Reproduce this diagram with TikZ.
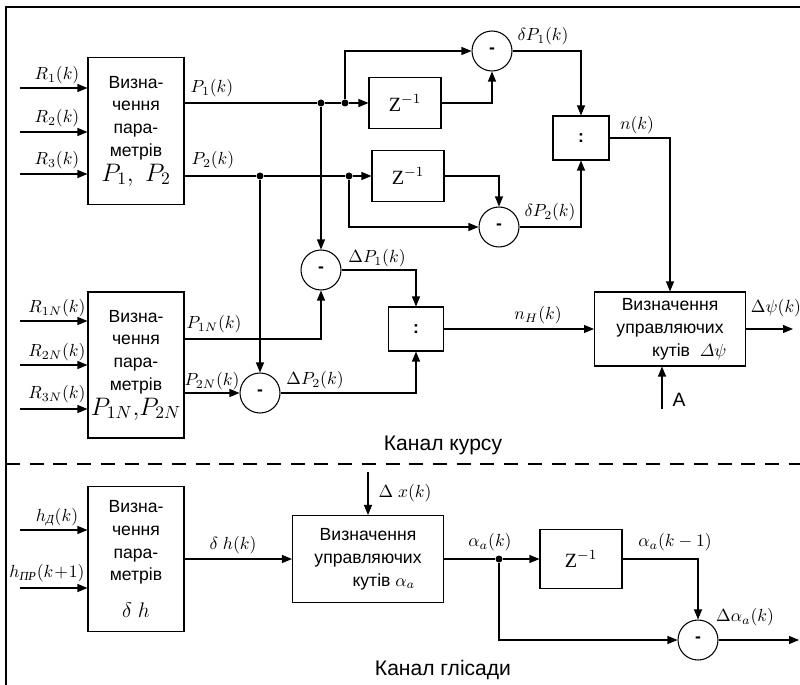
\documentclass[tikz,border=0pt]{standalone}
\usepackage{fontspec}
\setmainfont{Liberation Sans}
\newfontfamily\serifcyr{Liberation Serif}
\usetikzlibrary{arrows.meta,positioning,calc}
\newcommand{\cyrsub}[1]{\mbox{\fontsize{7}{8}\selectfont\serifcyr\itshape #1}}
\newcommand{\zinv}{{\serifcyr Z}$^{-1}$}
\tikzset{
  block/.style={draw, line width=0.6pt, align=center, inner sep=0pt,
    font=\fontsize{10}{13}\selectfont},
  delay/.style={draw, line width=0.6pt, minimum width=1.44cm, minimum height=1.02cm,
    font=\fontsize{11.5}{13}\selectfont},
  divbox/.style={draw, line width=0.6pt, minimum width=1.12cm, minimum height=0.88cm,
    font=\bfseries},
  sumc/.style={draw, circle, line width=0.6pt, minimum size=0.8cm, inner sep=0pt,
    font=\bfseries},
  dot/.style={circle, fill, inner sep=0pt, minimum size=0.14cm},
  flow/.style={line width=0.6pt, -{Triangle[length=2mm,width=1.6mm]}},
  link/.style={line width=0.6pt},
  lbl/.style={inner sep=1pt},
  chan/.style={font=\fontsize{12}{14}\selectfont}
}
\begin{document}
\begin{tikzpicture}[x=0.02cm, y=-0.02cm]
  \useasboundingbox (0,0) rectangle (800,685);
  % рамка
  \draw[line width=0.8pt] (6,685) -- (6,7) -- (800,7);
  \draw[line width=0.6pt, dash pattern=on 8pt off 5.5pt] (6,464) -- (800,464);

  % канал курсу
  \node[block, minimum width=1.92cm, minimum height=2.94cm] (b1) at (136,131)
    {Визна-\\чення\\пара-\\метрів\\[1pt]{\Large $P_1,\ P_2$}};
  \node[block, minimum width=1.92cm, minimum height=2.92cm] (b2) at (136,365)
    {Визна-\\чення\\пара-\\метрів\\[1pt]{\Large $P_{1N},\!P_{2N}$}};
  \node[delay] (z1) at (405,103) {\zinv};
  \node[delay] (z2) at (408,176) {\zinv};
  \node[sumc] (c1) at (492,51) {-};
  \node[sumc] (c2) at (499,227) {-};
  \node[sumc] (c3) at (321,270) {-};
  \node[sumc] (c4) at (260,393) {-};
  \node[divbox] (div1) at (581,138) {:};
  \node[divbox, minimum width=1.1cm] (div2) at (416,329) {:};
  \node[block, minimum width=3.02cm, minimum height=1.48cm] (dpsi) at (670,329)
    {Визначення\\управляючих\\\hspace*{22pt}кутів\ \ $\mathnormal{\Delta}\psi$};

  \node[dot] (d1) at (321,103) {};
  \node[dot] (d2) at (345,103) {};
  \node[dot] (d3) at (260,176) {};
  \node[dot] (d4) at (349,176) {};

  \foreach \i/\y in {1/88,2/132,3/174}{
    \coordinate (r\i) at (20,\y);
    \draw[flow] (r\i) -- (r\i -| b1.west);
  }
  \foreach \i/\y in {1/321,2/365,3/409}{
    \coordinate (rn\i) at (20,\y);
    \draw[flow] (rn\i) -- (rn\i -| b2.west);
  }
  \coordinate (p1) at (b1.east |- d1);
  \coordinate (p2) at (b1.east |- d3);
  \coordinate (p1n) at (184,339);
  \coordinate (p2n) at (184,393);
  \coordinate (psiout) at (793,329);
  \coordinate (ain) at (662,409);

  \draw[link] (p1) -- (d1) -- (d2);
  \draw[flow] (d2) -- (z1.west);
  \draw[flow] (d2) |- (c1);
  \draw[flow] (z1) -| (c1);
  \draw[link] (p2) -- (d3) -- (d4);
  \draw[flow] (d4) -- (z2.west);
  \draw[flow] (z2) -| (c2);
  \draw[flow] (d4) |- (c2);
  \draw[flow] (c1) -| (div1);
  \draw[flow] (c2) -| (div1);
  \draw[flow] (div1) -| (dpsi);
  \draw[flow] (d1) -- (c3);
  \draw[flow] (d3) -- (c4);
  \draw[flow] (p1n) -| (c3);
  \draw[flow] (p2n) -- (c4);
  \draw[flow] (c3) -| (div2);
  \draw[flow] (c4) -| (div2);
  \draw[flow] (div2) -- (dpsi.west);
  \draw[flow] (dpsi) -- (psiout);
  \draw[flow] (ain) -- (ain |- dpsi.south);

  \node[lbl] (lr1) at (57,75) {$R_1(k)$};
  \node[lbl] (lr2) at (57,118) {$R_2(k)$};
  \node[lbl] (lr3) at (57,160) {$R_3(k)$};
  \node[lbl] (lrn1) at (57,308) {$R_{1N}(k)$};
  \node[lbl] (lrn2) at (57,352) {$R_{2N}(k)$};
  \node[lbl] (lrn3) at (57,394) {$R_{3N}(k)$};
  \node[lbl] (lp1) at (212,88) {$P_1(k)$};
  \node[lbl] (lp2) at (213,160) {$P_2(k)$};
  \node[lbl] (lp1n) at (214,324) {$P_{1N}(k)$};
  \node[lbl] (lp2n) at (212,381) {$P_{2N}(k)$};
  \node[lbl] (ldp1) at (543,36) {$\delta P_1(k)$};
  \node[lbl] (ldp2) at (550,212) {$\delta P_2(k)$};
  \node[lbl] (lnk) at (637,125) {$n(k)$};
  \node[lbl] (lDp1) at (377,258) {$\Delta P_1(k)$};
  \node[lbl] (lDp2) at (315,380) {$\Delta P_2(k)$};
  \node[lbl] (lnh) at (538,315) {$n_H(k)$};
  \node[lbl] (lpsi) at (776,308) {$\Delta\psi(k)$};
  \node[lbl, font=\fontsize{11}{13}\selectfont] (la) at (679,400) {A};
  \node[chan] (kurs) at (443,445) {Канал курсу};

  % канал глісади
  \node[block, minimum width=1.92cm, minimum height=2.9cm] (b3) at (136,559)
    {Визна-\\чення\\пара-\\метрів\\[8pt]{\large $\delta\ h$}};
  \node[block, minimum width=3.02cm, minimum height=1.74cm] (alpha) at (368,559)
    {Визначення\\управляючих\\\hspace*{18pt}кутів $\alpha_a$};
  \node[delay, minimum width=1.64cm, minimum height=1.18cm] (z3) at (581,559)
    {\zinv};
  \node[sumc] (c5) at (698,640) {-};
  \node[dot] (d5) at (499,559) {};

  \coordinate (hd) at (20,530);
  \coordinate (hpr) at (20,588);
  \coordinate (dxin) at (368,472);
  \coordinate (daout) at (799,640);

  \draw[flow] (hd) -- (hd -| b3.west);
  \draw[flow] (hpr) -- (hpr -| b3.west);
  \draw[flow] (b3) -- (alpha);
  \draw[flow] (dxin) -- (alpha.north);
  \draw[link] (alpha) -- (d5);
  \draw[flow] (d5) -- (z3.west);
  \draw[flow] (z3) -| (c5);
  \draw[flow] (d5) |- (c5);
  \draw[flow] (c5) -- (daout);

  \node[lbl] (lhd) at (57,517) {$h_{\cyrsub{Д}}(k)$};
  \node[lbl] (lhpr) at (47,573) {$h_{\cyrsub{ПР}}(k\!+\!1)$};
  \node[lbl] (ldh) at (233,545) {$\delta\ h(k)$};
  \node[lbl] (ldx) at (405,493) {$\Delta\ x(k)$};
  \node[lbl] (lal) at (490,542) {$\alpha_a(k)$};
  \node[lbl] (lal1) at (675,542) {$\alpha_a(k-1)$};
  \node[lbl] (ldal) at (745,617) {$\Delta\alpha_a(k)$};
  \node[chan] (glis) at (443,670) {Канал глісади};
\end{tikzpicture}
\end{document}
